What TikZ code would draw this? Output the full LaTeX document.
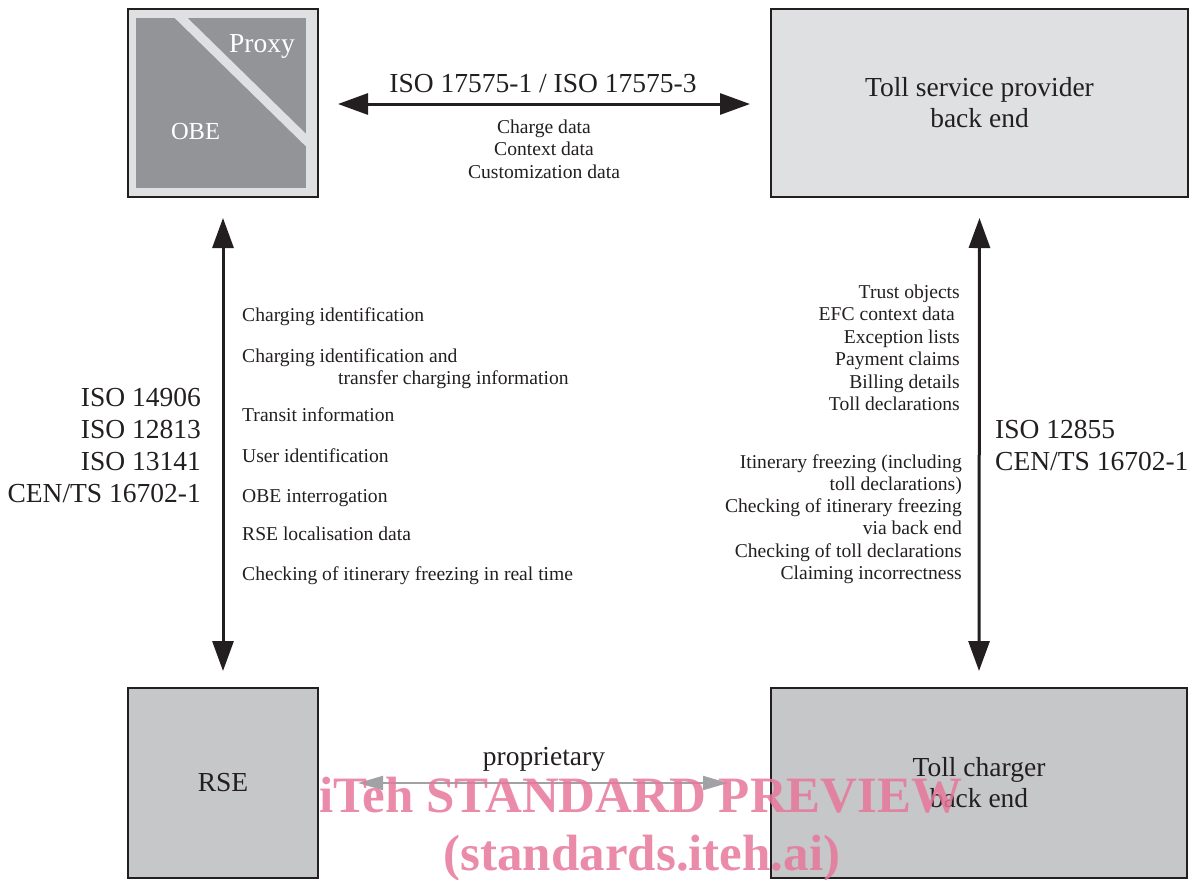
\documentclass[tikz,border=0pt]{standalone}
\usepackage{fontspec}
\setmainfont{Liberation Serif}
\usetikzlibrary{arrows.meta}
\definecolor{ink}{HTML}{231F20}
\definecolor{lightbox}{HTML}{DFE0E2}
\definecolor{midbox}{HTML}{C6C7C9}
\definecolor{obegray}{HTML}{939497}
\definecolor{arrgray}{HTML}{A0A2A5}
\definecolor{wmpink}{HTML}{E8779B}
\begin{document}
\begin{tikzpicture}[x=1pt,y=-1pt,
  box/.style={draw=ink, line width=2pt, inner sep=0pt, align=center, text=ink,
    font=\fontsize{27.5}{31}\selectfont},
  big/.style={inner sep=0pt, text=ink, font=\fontsize{27.5}{31}\selectfont},
  small/.style={inner sep=0pt, text=ink, font=\fontsize{19.6}{22.4}\selectfont},
  bigarrow/.style={draw=ink, line width=3pt, {Triangle[length=30pt,width=21pt]}-{Triangle[length=30pt,width=21pt]}},
  grayarrow/.style={draw=arrgray, line width=2pt, {Triangle[length=25pt,width=14pt]}-{Triangle[length=25pt,width=14pt]}},
  wm/.style={inner sep=0pt, text=wmpink, text opacity=0.85, font=\fontsize{51}{58}\selectfont\bfseries}
]
\useasboundingbox (0,0) rectangle (1191,879);

% boxes
\node[box, fill=lightbox, minimum width=190pt, minimum height=188pt] (obe) at (223,103) {};
\fill[obegray] (136,18) rectangle (306,188);
\begin{scope}
  \clip (136,18) rectangle (306,188);
  \draw[lightbox, line width=9pt] (175,12) -- (312,146);
\end{scope}
\node[inner sep=0pt, text=white, font=\fontsize{27.5}{31}\selectfont, anchor=base] (proxy) at (262,52) {Proxy};
\node[inner sep=0pt, text=white, font=\fontsize{24.5}{31}\selectfont, anchor=base] (obetxt) at (195.5,139) {OBE};

\node[box, fill=lightbox, minimum width=417pt, minimum height=188pt] (tsp) at (979.5,103) {Toll service provider\\back end};
\node[box, fill=midbox, minimum width=190pt, minimum height=190pt] (rse) at (223,783) {RSE};
\node[box, fill=midbox, minimum width=416pt, minimum height=190pt] (tcb) at (979,783) {Toll charger\\back end};

% arrows
\draw[bigarrow, shorten <=19pt, shorten >=20pt] ([yshift=-1pt]obe.east) -- ([yshift=-1pt]tsp.west);
\draw[bigarrow, shorten <=20pt, shorten >=16pt] (obe.south) -- (rse.north);
\draw[bigarrow, shorten <=20pt, shorten >=16pt] (tsp.south) -- (tcb.north);
\draw[grayarrow, shorten <=39pt, shorten >=42pt] (rse.east) -- (tcb.west);

% top labels
\node[big, anchor=base] (isotop) at (543,92) {ISO 17575-1 / ISO 17575-3};
\node[small, anchor=base] (t1) at (544,133) {Charge data};
\node[small, anchor=base] (t2) at (544,155) {Context data};
\node[small, anchor=base] (t3) at (544,178) {Customization data};

% left standards
\node[big, anchor=base east] (l1) at (201,406) {ISO 14906};
\node[big, anchor=base east] (l2) at (201,438) {ISO 12813};
\node[big, anchor=base east] (l3) at (201,470) {ISO 13141};
\node[big, anchor=base east] (l4) at (201,502) {CEN/TS 16702-1};

% left list
\node[small, anchor=base west] (a1) at (242,321) {Charging identification};
\node[small, anchor=base west] (a2) at (242,362) {Charging identification and};
\node[small, anchor=base west] (a3) at (338,384) {transfer charging information};
\node[small, anchor=base west] (a4) at (242,421) {Transit information};
\node[small, anchor=base west] (a5) at (242,462) {User identification};
\node[small, anchor=base west] (a6) at (242,502) {OBE interrogation};
\node[small, anchor=base west] (a7) at (242,540) {RSE localisation data};
\node[small, anchor=base west] (a8) at (242,580) {Checking of itinerary freezing in real time};

% right list
\node[small, anchor=base east] (b1) at (960,298) {Trust objects};
\node[small, anchor=base east] (b2) at (955,320) {EFC context data};
\node[small, anchor=base east] (b3) at (960,343) {Exception lists};
\node[small, anchor=base east] (b4) at (960,365) {Payment claims};
\node[small, anchor=base east] (b5) at (960,388) {Billing details};
\node[small, anchor=base east] (b6) at (960,410) {Toll declarations};
\node[small, anchor=base east] (c1) at (962,468) {Itinerary freezing (including};
\node[small, anchor=base east] (c2) at (962,490) {toll declarations)};
\node[small, anchor=base east] (c3) at (962,512) {Checking of itinerary freezing};
\node[small, anchor=base east] (c4) at (962,534) {via back end};
\node[small, anchor=base east] (c5) at (962,557) {Checking of toll declarations};
\node[small, anchor=base east] (c6) at (962,579) {Claiming incorrectness};

% right standards
\node[big, anchor=base west] (r1) at (995,438) {ISO 12855};
\node[big, anchor=base west] (r2) at (995,470) {CEN/TS 16702-1};

% proprietary
\node[big, anchor=base] (prop) at (544,765) {proprietary};

% watermark
\node[wm, anchor=base] (wm1) at (641,812) {iTeh STANDARD PREVIEW};
\node[wm, anchor=base] (wm2) at (642,870) {(standards.iteh.ai)};
\end{tikzpicture}
\end{document}
